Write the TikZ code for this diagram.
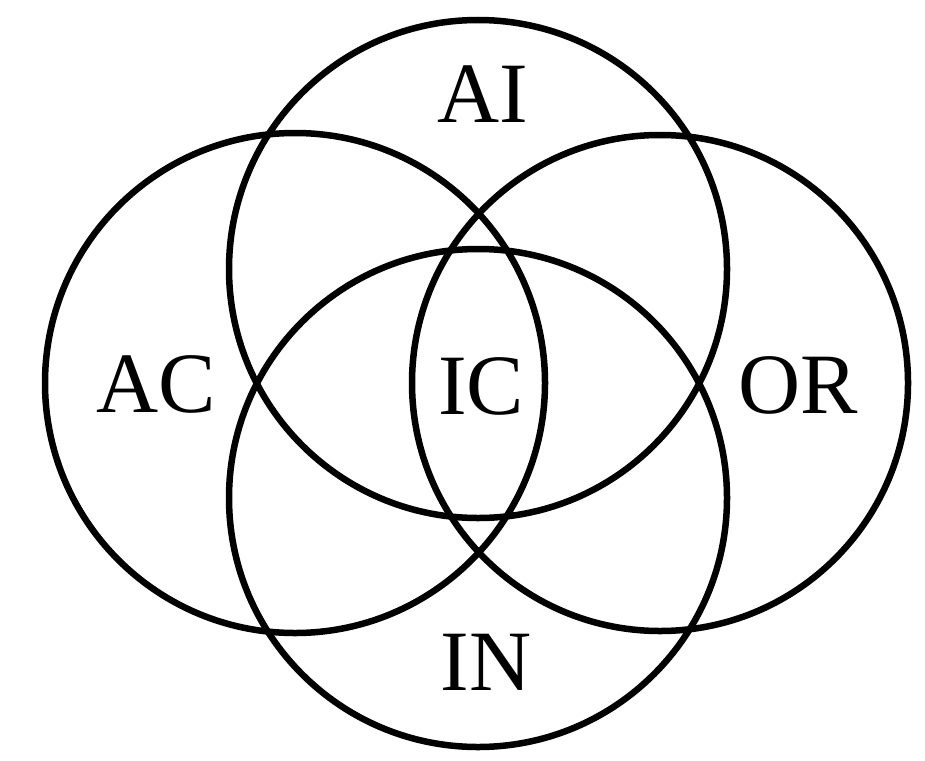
\documentclass[tikz,border=0pt]{standalone}
\usepackage{fontspec}
\setmainfont{Liberation Serif}
\begin{document}
\begin{tikzpicture}[x=1pt,y=-1pt,
  ring/.style={draw=black,line width=6.5pt},
  lbl/.style={inner sep=0pt,font=\fontsize{86}{86}\selectfont}]
\useasboundingbox (0,0) rectangle (925,760);
\coordinate (cAI) at (478,269);
\coordinate (cIN) at (478,498);
\coordinate (cAC) at (295,383);
\coordinate (cOR) at (660,383);
\draw[ring] (cAI) circle[radius=249];
\draw[ring] (cIN) circle[radius=249];
\draw[ring] (cAC) circle[radius=250];
\draw[ring] (cOR) circle[radius=248];
\node[lbl] (ai) at (483,94) {AI};
\node[lbl] (ac) at (156,384) {AC};
\node[lbl] (ic) at (481,386) {IC};
\node[lbl] (or) at (798,385) {OR};
\node[lbl] (in) at (486,662) {IN};
\end{tikzpicture}
\end{document}
